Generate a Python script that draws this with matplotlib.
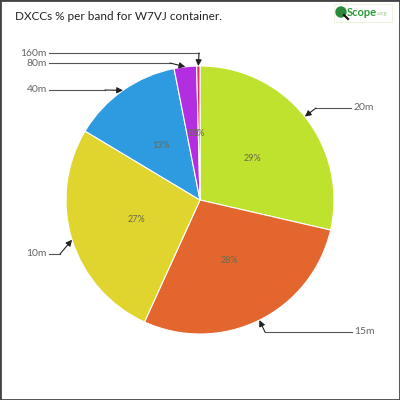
import numpy as np
import matplotlib
matplotlib.use("Agg")
import matplotlib.pyplot as plt
from matplotlib.patches import Rectangle, Circle

plt.rcParams['font.family'] = ['Lato', 'DejaVu Sans']

bands = ['20m', '15m', '10m', '40m', '80m', '160m']
shares = [28.6, 28.2, 26.8, 13.3, 2.7, 0.4]
colors = ['#bfe22e', '#e2662e', '#e0d52e', '#2e9ae0', '#b22ee0', '#e02e6a']

# label placement in pixel coords (y down): text anchor, elbow point, alignment
label_pos = {
    '20m': ((353, 108), (316, 108), 'left'),
    '15m': ((354, 332), (265, 332), 'left'),
    '10m': ((47, 254), (60, 254), 'right'),
    '40m': ((47, 90), (105, 90), 'right'),
    '80m': ((47, 63), (170, 63), 'right'),
    '160m': ((47, 53), (199, 53), 'right'),
}

W = 400
cx, cy, R = 200, 200, 134

fig = plt.figure(figsize=(4, 4), dpi=100)
ax = fig.add_axes([0, 0, 1, 1])
ax.set_xlim(0, W)
ax.set_ylim(0, W)
ax.axis('off')

def py(y):
    return W - y

wedges, texts, autotexts = ax.pie(
    shares, colors=colors, startangle=90, counterclock=False,
    center=(cx, py(cy)), radius=R, autopct='%1.0f%%', pctdistance=0.5,
    wedgeprops=dict(edgecolor='white', linewidth=0.8),
    textprops=dict(fontsize=6.5, color='#6b6b4a'))
ax.set_xlim(0, W)
ax.set_ylim(0, W)
ax.set_aspect('equal')

for w, band in zip(wedges, bands):
    mid = np.deg2rad((w.theta1 + w.theta2) / 2)
    tip = (cx + R * np.cos(mid), py(cy) + R * np.sin(mid))
    (tx, ty), (ex, ey), ha = label_pos[band]
    start_x = tx - 2 if ha == 'left' else tx + 2
    ax.plot([start_x, ex], [py(ty), py(ey)], color='#555555', lw=0.8)
    ax.annotate('', xy=tip, xytext=(ex, py(ey)),
                arrowprops=dict(arrowstyle='-|>', color='#222222', lw=0.8,
                                mutation_scale=9, shrinkA=0, shrinkB=0))
    ax.text(tx, py(ty), band, ha=ha, va='center', fontsize=7.5, color='#666666')

ax.text(15, py(17), 'DXCCs % per band for W7VJ container.', ha='left', va='center',
        fontsize=8.5, color='#222222')

# logo
ax.add_patch(Rectangle((334, py(22)), 58, 18, facecolor='white',
                       edgecolor='#eef3e0', lw=0.8))
ax.add_patch(Circle((341, py(12)), 5, color='#2a8a3a'))
ax.plot([344, 348], [py(15), py(19)], color='#111111', lw=1.5)
ax.text(347, py(12), 'Scope', ha='left', va='center', fontsize=8,
        fontweight='bold', color='#2a9a3a')
ax.text(377, py(14), '.org', ha='left', va='center', fontsize=4.5, color='#9ccc8a')

fig.patches.append(Rectangle((0, 0), 1, 1, transform=fig.transFigure, fill=False,
                             edgecolor='#444444', linewidth=2))

fig.savefig('out.png', dpi=100)
